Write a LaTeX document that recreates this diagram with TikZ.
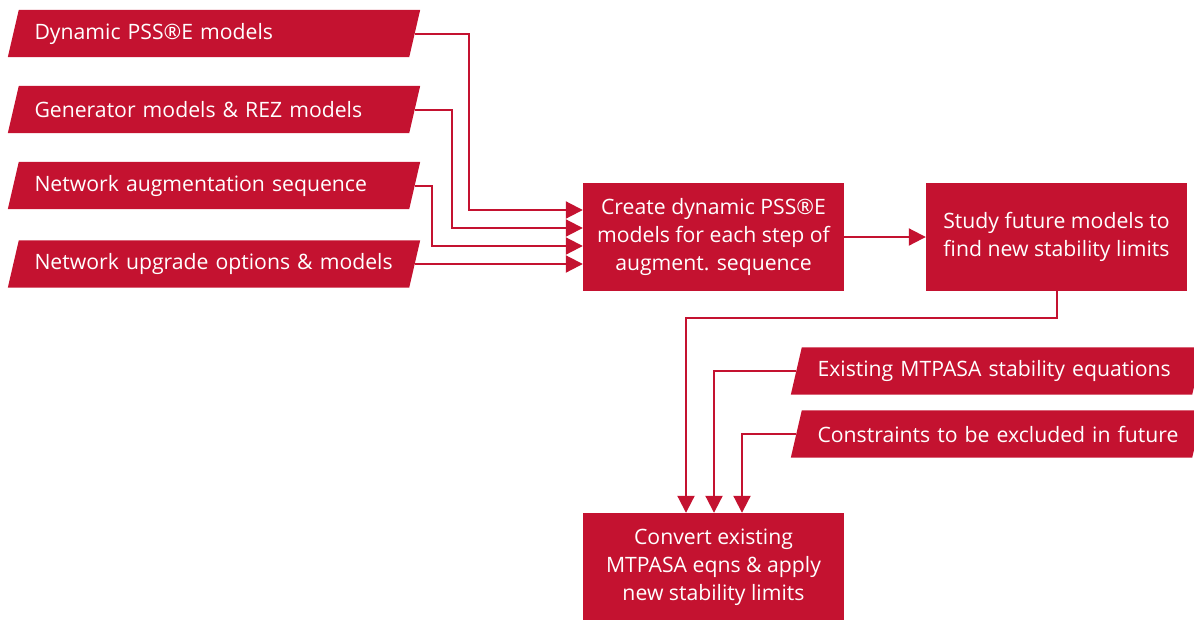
\documentclass[tikz,border=0pt]{standalone}
\usepackage{fontspec}
\setmainfont{Open Sans}
\usetikzlibrary{arrows.meta,backgrounds,calc}
\definecolor{crim}{HTML}{C41230}
\begin{document}
\begin{tikzpicture}[x=1pt,y=-1pt,
  box/.style={fill=crim,text=white,minimum width=261pt,minimum height=108pt,inner sep=0pt,align=center,font=\fontsize{21.2}{28}\selectfont},
  para/.style={text=white,text width=359pt,inner xsep=21pt,inner ysep=0pt,minimum height=47pt,align=left,font=\fontsize{21.2}{28}\selectfont},
  conn/.style={draw=crim,line width=2pt,-{Triangle[length=17pt,width=17pt]}},
]
\useasboundingbox (0,0) rectangle (1194,619);
% input parallelograms
\node[para] (i1) at (214,33.5) {\mbox{Dynamic PSS®E models}};
\node[para] (i2) at (214,109.5) {\mbox{Generator models \& REZ models}};
\node[para] (i3) at (214,185.5) {\mbox{Network augmentation sequence}};
\node[para] (i4) at (214,264) {\mbox{Network upgrade options \& models}};
\node[para] (e1) at (997,371) {\mbox{Existing MTPASA stability equations}};
\node[para] (c1) at (997,434) {\mbox{Constraints to be excluded in future}};
% boxes
\node[box] (A) at (713.5,237) {Create dynamic PSS®E\\models for each step of\\augment. sequence};
\node[box] (B) at (1056.5,237) {Study future models to\\find new stability limits};
\node[box] (D) at (713.5,567) {Convert existing\\MTPASA eqns \& apply\\new stability limits};
\begin{pgfonlayer}{background}
\foreach \p in {i1,i2,i3,i4,e1,c1}{
  \fill[crim] ($(\p.south west)+(-5.5,0)$) -- ($(\p.north west)+(5.5,0)$) -- ($(\p.north east)+(5.5,0)$) -- ($(\p.south east)+(-5.5,0)$) -- cycle;
}
\end{pgfonlayer}
% connectors
\draw[conn] (i1.east) -- ++(54.5,0) |- ($(A.west)+(0,-27)$);
\draw[conn] (i2.east) -- ++(37.5,0) |- ($(A.west)+(0,-9)$);
\draw[conn] (i3.east) -- ++(17.5,0) |- ($(A.west)+(0,9)$);
\draw[conn] (i4.east) -- ($(A.west)+(0,27)$);
\draw[conn] (A) -- (B);
\draw[conn] (B.south) -- ++(0,27) -| ($(D.north)+(-27.5,0)$);
\draw[conn] (e1.west) -| ($(D.north)+(0.5,0)$);
\draw[conn] (c1.west) -| ($(D.north)+(28.5,0)$);
\end{tikzpicture}
\end{document}
